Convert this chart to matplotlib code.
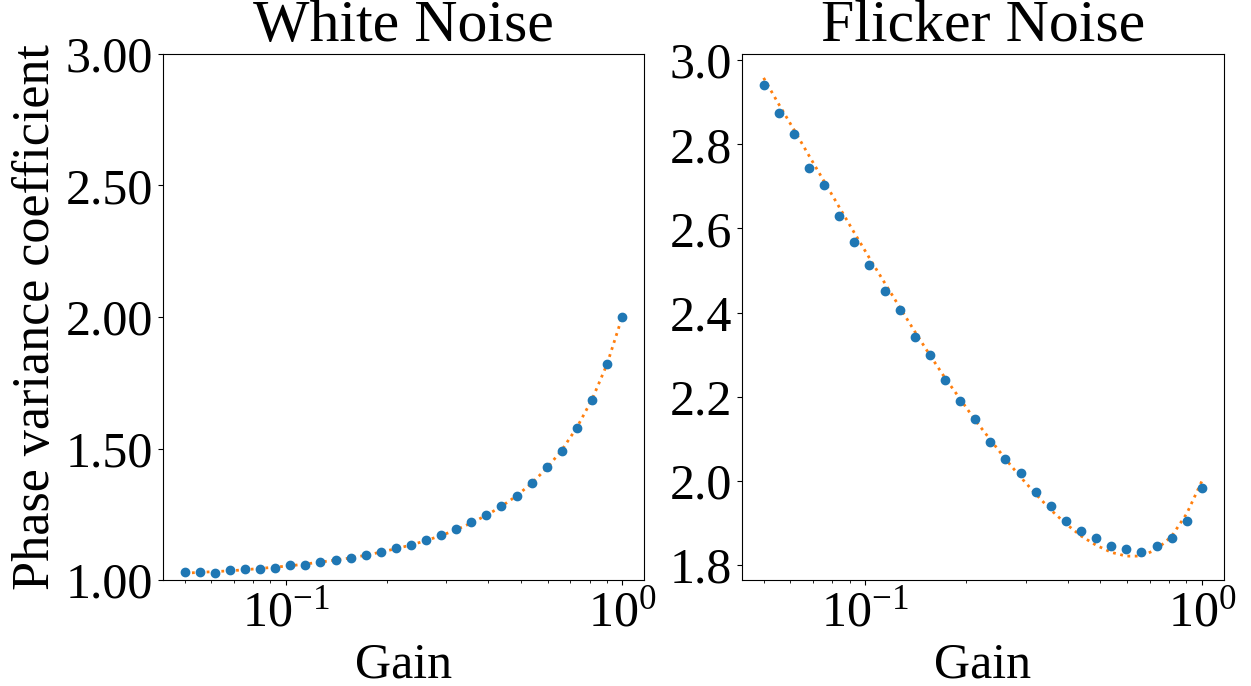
import matplotlib
matplotlib.use('Agg')
import matplotlib.pyplot as plt
from matplotlib.ticker import FormatStrFormatter, MultipleLocator

plt.rcParams['font.family'] = ['Liberation Serif', 'DejaVu Serif']
plt.rcParams['mathtext.fontset'] = 'custom'
plt.rcParams['mathtext.rm'] = 'Liberation Serif'
plt.rcParams['mathtext.it'] = 'Liberation Serif:italic'
plt.rcParams['font.size'] = 36

# gain grid (log spaced 0.05 .. 1, 30 points)
gain = [0.0500, 0.0554, 0.0615, 0.0682, 0.0756, 0.0838, 0.0929, 0.1030,
        0.1143, 0.1267, 0.1405, 0.1558, 0.1727, 0.1915, 0.2124, 0.2355,
        0.2611, 0.2895, 0.3210, 0.3560, 0.3947, 0.4377, 0.4853, 0.5381,
        0.5967, 0.6616, 0.7336, 0.8134, 0.9020, 1.0000]

# white noise: simulated points and theory curve
white_sim = [1.029, 1.029, 1.028, 1.038, 1.041, 1.041, 1.047, 1.056, 1.058, 1.068,
             1.075, 1.084, 1.095, 1.108, 1.122, 1.133, 1.152, 1.172, 1.193, 1.222,
             1.247, 1.281, 1.319, 1.370, 1.429, 1.490, 1.579, 1.686, 1.820, 2.000]
white_theory = [1.026, 1.029, 1.032, 1.035, 1.039, 1.044, 1.049, 1.054, 1.061, 1.068,
                1.076, 1.084, 1.094, 1.106, 1.119, 1.133, 1.150, 1.169, 1.191, 1.217,
                1.246, 1.280, 1.320, 1.368, 1.425, 1.494, 1.580, 1.686, 1.821, 2.000]

# flicker noise: simulated points and theory curve
flicker_sim = [2.940, 2.874, 2.824, 2.743, 2.703, 2.630, 2.568, 2.512, 2.452, 2.405,
               2.343, 2.298, 2.240, 2.189, 2.146, 2.093, 2.053, 2.018, 1.973, 1.940,
               1.904, 1.881, 1.864, 1.845, 1.837, 1.830, 1.846, 1.864, 1.904, 1.984]
flicker_theory = [2.958, 2.896, 2.835, 2.773, 2.712, 2.651, 2.590, 2.530, 2.471, 2.413,
                  2.355, 2.299, 2.245, 2.195, 2.144, 2.098, 2.052, 2.009, 1.969, 1.931,
                  1.898, 1.869, 1.847, 1.830, 1.821, 1.821, 1.837, 1.868, 1.922, 1.999]

white_yticks = [1.0, 1.5, 2.0, 2.5, 3.0]

fig = plt.figure(figsize=(12.51, 6.86), dpi=100)
ax1 = fig.add_axes([0.1301, 0.1545, 0.3847, 0.7668])
ax2 = fig.add_axes([0.5929, 0.1545, 0.3853, 0.7668])

ax1.scatter(gain, white_sim, color='C0', s=36, zorder=3)
ax1.plot(gain, white_theory, color='C1', linestyle=':', linewidth=2)
ax1.set_xscale('log')
ax1.set_ylim(1.0, 3.0)
ax1.set_yticks(white_yticks)
ax1.yaxis.set_major_formatter(FormatStrFormatter('%.2f'))
ax1.set_title('White Noise', fontsize=43, pad=5)
ax1.set_xlabel('Gain')
ax1.set_ylabel('Phase variance coefficient', fontsize=37.5)

ax2.scatter(gain, flicker_sim, color='C0', s=36, zorder=3)
ax2.plot(gain, flicker_theory, color='C1', linestyle=':', linewidth=2)
ax2.set_xscale('log')
ax2.yaxis.set_major_locator(MultipleLocator(0.2))
ax2.yaxis.set_major_formatter(FormatStrFormatter('%.1f'))
ax2.set_title('Flicker Noise', fontsize=43, pad=5)
ax2.set_xlabel('Gain')

plt.savefig('out.png', dpi=100)
